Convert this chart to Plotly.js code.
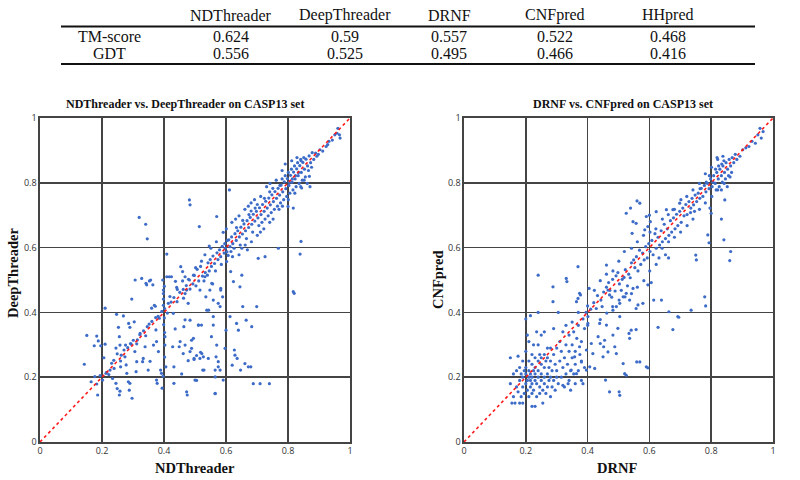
<!DOCTYPE html>
<html>
<head>
<meta charset="utf-8">
<script src="https://cdn.plot.ly/plotly-3.0.1.min.js"></script>
<style>html,body{margin:0;padding:0;background:#fff;}#chart{width:800px;height:480px;}</style>
</head>
<body>
<div id="chart"></div>
<script>
// ---- Table data ----
const tableCols = ["NDThreader", "DeepThreader", "DRNF", "CNFpred", "HHpred"];
const rowLabels = ["TM-score", "GDT"];
const tmScores = ["0.624", "0.59", "0.557", "0.522", "0.468"];
const gdtScores = ["0.556", "0.525", "0.495", "0.466", "0.416"];

// ---- Scatter tick labels ----
const tickVals = [0, 0.2, 0.4, 0.6, 0.8, 1];
const tickText = ["0", "0.2", "0.4", "0.6", "0.8", "1"];
const diagLine = [0, 1];

// ---- Left: NDThreader (x) vs DeepThreader (y) ----
const ndVsDeep = [
[0.143,0.240],[0.151,0.329],[0.183,0.327],[0.175,0.297],[0.188,0.312],[0.196,0.297],[0.210,0.302],[0.210,0.413],[0.165,0.186],[0.177,0.202],
[0.183,0.179],[0.186,0.145],[0.194,0.205],[0.202,0.191],[0.206,0.260],[0.213,0.212],[0.226,0.222],[0.234,0.196],[0.239,0.227],[0.245,0.290],
[0.249,0.272],[0.247,0.394],[0.253,0.354],[0.256,0.325],[0.258,0.299],[0.260,0.250],[0.260,0.232],[0.245,0.181],[0.249,0.165],[0.258,0.157],
[0.256,0.145],[0.269,0.389],[0.274,0.263],[0.276,0.299],[0.278,0.238],[0.280,0.212],[0.285,0.186],[0.288,0.160],[0.290,0.181],[0.286,0.366],
[0.290,0.354],[0.292,0.304],[0.296,0.441],[0.297,0.135],[0.304,0.371],[0.307,0.500],[0.306,0.279],[0.310,0.217],[0.312,0.248],[0.314,0.315],
[0.323,0.335],[0.328,0.505],[0.331,0.248],[0.333,0.258],[0.339,0.294],[0.342,0.490],[0.344,0.485],[0.346,0.356],[0.349,0.222],[0.353,0.497],
[0.357,0.500],[0.355,0.249],[0.360,0.413],[0.364,0.485],[0.366,0.299],[0.369,0.422],[0.372,0.419],[0.374,0.346],[0.376,0.310],[0.376,0.191],
[0.378,0.181],[0.382,0.279],[0.385,0.382],[0.389,0.222],[0.392,0.212],[0.394,0.166],[0.396,0.500],[0.398,0.441],[0.398,0.469],[0.398,0.422],
[0.403,0.325],[0.403,0.299],[0.406,0.232],[0.409,0.510],[0.417,0.510],[0.424,0.510],[0.419,0.449],[0.428,0.294],[0.430,0.397],[0.432,0.232],
[0.432,0.181],[0.436,0.349],[0.437,0.496],[0.441,0.477],[0.443,0.471],[0.449,0.294],[0.452,0.310],[0.457,0.210],[0.460,0.497],[0.462,0.471],
[0.462,0.273],[0.464,0.356],[0.468,0.377],[0.468,0.299],[0.473,0.155],[0.475,0.145],[0.478,0.251],[0.482,0.500],[0.484,0.279],[0.489,0.289],
[0.495,0.515],[0.497,0.258],[0.500,0.191],[0.505,0.267],[0.511,0.361],[0.516,0.258],[0.518,0.277],[0.521,0.361],[0.525,0.222],[0.532,0.510],
[0.538,0.407],[0.543,0.258],[0.553,0.325],[0.557,0.488],[0.559,0.438],[0.565,0.222],[0.565,0.150],[0.575,0.248],[0.581,0.418],[0.583,0.474],
[0.215,0.215],[0.222,0.208],[0.231,0.243],[0.238,0.252],[0.262,0.268],[0.271,0.284],[0.283,0.291],[0.294,0.302],[0.301,0.314],[0.312,0.303],
[0.322,0.331],[0.334,0.343],[0.341,0.328],[0.352,0.364],[0.361,0.372],[0.373,0.384],[0.381,0.388],[0.393,0.403],[0.402,0.412],[0.411,0.398],
[0.423,0.432],[0.432,0.446],[0.401,0.383],[0.399,0.362],[0.402,0.338],[0.398,0.458],[0.401,0.481],[0.397,0.203],[0.402,0.262],[0.414,0.428],
[0.454,0.541],[0.46,0.526],[0.468,0.51],[0.473,0.469],[0.478,0.428],[0.484,0.376],[0.489,0.314],[0.495,0.32],[0.497,0.255],[0.505,0.19],
[0.511,0.361],[0.516,0.469],[0.522,0.273],[0.527,0.263],[0.529,0.222],[0.535,0.448],[0.54,0.515],[0.544,0.407],[0.548,0.469],[0.554,0.49],
[0.559,0.387],[0.559,0.361],[0.565,0.201],[0.565,0.149],[0.568,0.263],[0.57,0.299],[0.575,0.428],[0.575,0.232],[0.581,0.222],[0.583,0.469],
[0.589,0.448],[0.591,0.191],[0.597,0.289],[0.6,0.345],[0.602,0.557],[0.613,0.387],[0.615,0.526],[0.62,0.237],[0.624,0.495],[0.627,0.284],
[0.629,0.268],[0.634,0.366],[0.636,0.258],[0.64,0.345],[0.645,0.479],[0.647,0.222],[0.651,0.515],[0.654,0.418],[0.661,0.242],[0.665,0.376],
[0.669,0.593],[0.672,0.232],[0.68,0.232],[0.683,0.356],[0.688,0.18],[0.699,0.418],[0.704,0.567],[0.71,0.18],[0.726,0.572],[0.74,0.18],
[0.769,0.598],[0.817,0.464],[0.82,0.459],[0.842,0.619],[0.839,0.58],[0.817,0.722],[0.80,0.727],[0.844,0.784],[0.869,0.82],
[0.32,0.693],[0.341,0.672],[0.346,0.627],[0.409,0.58],[0.482,0.747],[0.484,0.732],[0.514,0.665],[0.611,0.778],[0.57,0.696],[0.546,0.605],
[0.442,0.433],[0.451,0.462],[0.463,0.444],[0.472,0.483],[0.468,0.458],[0.484,0.472],[0.479,0.502],[0.493,0.488],[0.503,0.482],[0.498,0.514],
[0.512,0.497],[0.507,0.533],[0.524,0.512],[0.518,0.542],[0.533,0.523],[0.529,0.497],[0.542,0.553],[0.546,0.528],[0.553,0.542],[0.549,0.563],
[0.563,0.551],[0.558,0.574],[0.566,0.528],[0.574,0.563],[0.571,0.584],[0.583,0.572],[0.579,0.593],[0.585,0.548],[0.594,0.583],[0.588,0.604],
[0.596,0.612],[0.603,0.587],[0.598,0.598],[0.604,0.622],[0.607,0.576],[0.613,0.603],[0.609,0.624],[0.616,0.588],[0.622,0.612],[0.618,0.633],
[0.626,0.598],[0.633,0.622],[0.629,0.643],[0.634,0.662],[0.643,0.633],[0.638,0.652],[0.646,0.608],[0.653,0.642],[0.648,0.663],[0.654,0.684],
[0.663,0.652],[0.658,0.673],[0.666,0.628],[0.673,0.662],[0.668,0.683],[0.674,0.702],[0.683,0.672],[0.678,0.693],[0.686,0.648],[0.681,0.713],
[0.693,0.682],[0.688,0.703],[0.694,0.722],[0.703,0.692],[0.698,0.712],[0.706,0.668],[0.701,0.733],[0.713,0.702],[0.708,0.723],[0.716,0.678],
[0.723,0.712],[0.718,0.733],[0.724,0.752],[0.726,0.688],[0.733,0.722],[0.728,0.743],[0.736,0.698],[0.743,0.732],[0.738,0.753],[0.746,0.708],
[0.741,0.772],[0.753,0.742],[0.748,0.763],[0.756,0.718],[0.751,0.783],[0.763,0.752],[0.758,0.773],[0.766,0.728],[0.773,0.762],[0.768,0.783],
[0.774,0.792],[0.776,0.738],[0.783,0.772],[0.778,0.793],[0.786,0.748],[0.781,0.812],[0.793,0.782],[0.788,0.803],[0.796,0.758],[0.791,0.822],
[0.803,0.792],[0.798,0.813],[0.806,0.768],[0.801,0.832],[0.804,0.802],[0.813,0.802],[0.808,0.823],[0.816,0.778],[0.811,0.842],[0.814,0.812],
[0.823,0.812],[0.818,0.833],[0.826,0.788],[0.821,0.852],[0.824,0.822],[0.833,0.822],[0.828,0.843],[0.836,0.798],[0.831,0.862],[0.834,0.832],
[0.843,0.832],[0.838,0.853],[0.846,0.808],[0.841,0.872],[0.853,0.842],[0.848,0.863],[0.856,0.818],[0.851,0.878],[0.863,0.852],[0.858,0.873],
[0.866,0.838],[0.873,0.862],[0.868,0.883],[0.876,0.848],[0.883,0.872],[0.878,0.893],[0.893,0.882],[0.889,0.892],[0.903,0.902],[0.912,0.898],
[0.923,0.912],[0.932,0.928],[0.943,0.932],[0.951,0.948],[0.958,0.953],[0.968,0.938],[0.966,0.948],[0.961,0.968],[0.928,0.918],[0.898,0.888],
[0.502,0.538],[0.521,0.558],[0.532,0.578],[0.551,0.598],[0.569,0.618],[0.591,0.647],[0.601,0.658],[0.619,0.678],[0.631,0.688],[0.642,0.698],
[0.661,0.718],[0.672,0.728],[0.681,0.738],[0.692,0.748],[0.712,0.758],[0.731,0.788],[0.742,0.798],[0.762,0.808],[0.781,0.838],[0.791,0.858],
[0.812,0.868],[0.829,0.878],[0.842,0.868],[0.621,0.572],[0.642,0.578],[0.651,0.598],[0.662,0.608],[0.682,0.618],[0.701,0.638],[0.711,0.648],
[0.722,0.658],[0.741,0.678],[0.752,0.688],[0.771,0.718],[0.782,0.728],[0.801,0.748],[0.822,0.768],[0.841,0.788],[0.862,0.798],[0.871,0.788],[0.852,0.808]
];

// ---- Right: DRNF (x) vs CNFpred (y) ----
const drnfVsCnf = [
[0.15,0.26],[0.15,0.18],[0.155,0.12],[0.16,0.14],[0.16,0.21],[0.165,0.12],[0.17,0.17],[0.17,0.22],[0.175,0.265],[0.175,0.155],
[0.18,0.12],[0.18,0.19],[0.18,0.23],[0.185,0.14],[0.185,0.21],[0.19,0.12],[0.19,0.17],[0.19,0.20],[0.19,0.25],[0.195,0.15],
[0.195,0.22],[0.20,0.18],[0.20,0.21],[0.20,0.23],[0.20,0.28],[0.20,0.38],[0.205,0.16],[0.205,0.19],[0.205,0.33],[0.21,0.14],
[0.21,0.20],[0.21,0.22],[0.21,0.25],[0.21,0.31],[0.215,0.17],[0.215,0.19],[0.215,0.21],[0.215,0.39],[0.22,0.11],[0.22,0.15],
[0.22,0.18],[0.22,0.20],[0.22,0.24],[0.22,0.27],[0.225,0.16],[0.225,0.22],[0.225,0.30],[0.23,0.11],[0.23,0.19],[0.23,0.21],
[0.23,0.23],[0.23,0.26],[0.235,0.14],[0.235,0.18],[0.235,0.34],[0.24,0.20],[0.24,0.22],[0.24,0.25],[0.24,0.30],[0.24,0.40],
[0.245,0.15],[0.245,0.17],[0.245,0.27],[0.25,0.19],[0.25,0.21],[0.25,0.24],[0.25,0.26],[0.25,0.33],[0.255,0.12],[0.255,0.16],
[0.26,0.18],[0.26,0.20],[0.26,0.23],[0.26,0.27],[0.26,0.34],[0.265,0.15],[0.265,0.25],[0.27,0.17],[0.27,0.21],[0.27,0.26],
[0.27,0.29],[0.275,0.19],[0.275,0.23],[0.28,0.14],[0.28,0.20],[0.28,0.25],[0.28,0.29],[0.285,0.17],[0.285,0.22],[0.29,0.19],
[0.29,0.27],[0.29,0.35],[0.295,0.16],[0.295,0.24],[0.30,0.20],[0.30,0.22],[0.30,0.29],[0.305,0.18],[0.305,0.40],[0.31,0.25],
[0.31,0.31],[0.315,0.20],[0.315,0.28],[0.32,0.23],[0.32,0.34],[0.325,0.17],[0.325,0.26],[0.33,0.21],[0.33,0.30],[0.33,0.36],
[0.335,0.24],[0.34,0.19],[0.34,0.28],[0.34,0.33],[0.345,0.16],[0.345,0.22],[0.35,0.26],[0.35,0.30],[0.35,0.37],[0.355,0.21],
[0.355,0.34],[0.36,0.18],[0.36,0.24],[0.36,0.28],[0.365,0.32],[0.37,0.22],[0.37,0.36],[0.37,0.40],[0.375,0.27],[0.38,0.19],
[0.38,0.25],[0.38,0.31],[0.385,0.38],[0.39,0.23],[0.39,0.35],[0.395,0.40],[0.40,0.36],[0.40,0.42],[0.41,0.41],[0.42,0.43],
[0.432,0.452],[0.428,0.412],[0.443,0.438],[0.452,0.463],[0.447,0.418],[0.461,0.478],[0.472,0.468],[0.468,0.492],[0.481,0.502],[0.478,0.447],
[0.492,0.513],[0.489,0.466],[0.503,0.488],[0.498,0.523],[0.512,0.502],[0.509,0.468],[0.522,0.532],[0.518,0.508],[0.533,0.518],[0.529,0.482],
[0.542,0.553],[0.538,0.507],[0.553,0.538],[0.549,0.562],[0.563,0.528],[0.558,0.572],[0.572,0.548],[0.568,0.592],[0.583,0.562],[0.578,0.583],
[0.593,0.568],[0.588,0.603],[0.602,0.588],[0.598,0.612],[0.612,0.578],[0.608,0.622],[0.622,0.598],[0.618,0.643],[0.633,0.608],[0.628,0.632],
[0.642,0.618],[0.638,0.652],[0.652,0.628],[0.648,0.672],[0.663,0.638],[0.658,0.658],[0.672,0.648],[0.668,0.683],[0.683,0.658],[0.678,0.692],
[0.692,0.668],[0.688,0.703],[0.703,0.678],[0.698,0.712],[0.712,0.698],[0.708,0.722],[0.722,0.702],[0.718,0.733],[0.733,0.708],[0.728,0.742],
[0.734,0.722],[0.743,0.732],[0.738,0.752],[0.746,0.712],[0.753,0.742],[0.748,0.762],[0.763,0.752],[0.758,0.768],[0.764,0.782],[0.773,0.758],
[0.768,0.783],[0.783,0.772],[0.778,0.792],[0.784,0.802],[0.793,0.782],[0.788,0.798],[0.794,0.822],[0.803,0.788],[0.798,0.812],[0.806,0.802],
[0.813,0.798],[0.808,0.822],[0.814,0.842],[0.816,0.778],[0.823,0.812],[0.818,0.832],[0.824,0.852],[0.826,0.788],[0.821,0.872],[0.833,0.822],
[0.828,0.842],[0.834,0.858],[0.836,0.802],[0.843,0.832],[0.838,0.852],[0.846,0.812],[0.841,0.868],[0.853,0.842],[0.848,0.862],[0.856,0.822],
[0.863,0.852],[0.858,0.872],[0.866,0.832],[0.873,0.862],[0.868,0.878],[0.883,0.872],[0.878,0.888],[0.893,0.882],[0.902,0.902],[0.912,0.908],
[0.922,0.912],[0.932,0.928],[0.943,0.922],[0.951,0.948],[0.962,0.938],[0.968,0.958],[0.958,0.968],
[0.24,0.515],[0.288,0.479],[0.288,0.433],[0.331,0.505],[0.333,0.495],[0.369,0.541],[0.374,0.459],[0.377,0.454],[0.405,0.474],[0.369,0.443],
[0.364,0.433],[0.401,0.387],[0.401,0.366],
[0.525,0.706],[0.539,0.722],[0.56,0.744],[0.569,0.737],[0.547,0.68],[0.557,0.675],[0.544,0.644],[0.59,0.696],[0.585,0.655],[0.461,0.546],
[0.466,0.469],[0.471,0.454],[0.482,0.407],[0.493,0.418],[0.504,0.428],[0.515,0.448],[0.525,0.459],[0.536,0.438],[0.547,0.474],[0.557,0.412],
[0.563,0.423],[0.579,0.428],[0.595,0.485],[0.606,0.492],[0.614,0.438],[0.639,0.438],[0.628,0.354],[0.676,0.347],[0.692,0.387],[0.695,0.385],
[0.663,0.402],[0.735,0.407],[0.779,0.448],[0.782,0.42],[0.595,0.665],[0.603,0.68],[0.6,0.70],[0.622,0.711],[0.655,0.717],[0.676,0.717],[0.698,0.737],
[0.833,0.688],[0.841,0.624],[0.863,0.588],[0.86,0.56],[0.789,0.639],[0.793,0.615],[0.75,0.577],[0.752,0.562],[0.80,0.706],[0.796,0.722],
[0.844,0.747],[0.833,0.778],
[0.396,0.284],[0.417,0.273],[0.423,0.227],[0.439,0.366],[0.441,0.304],[0.45,0.263],[0.452,0.294],[0.458,0.191],[0.466,0.278],[0.471,0.155],
[0.482,0.33],[0.488,0.294],[0.493,0.273],[0.498,0.351],[0.502,0.155],[0.504,0.144],[0.515,0.242],[0.52,0.211],[0.525,0.206],[0.534,0.335],
[0.536,0.32],[0.557,0.347],[0.559,0.247],[0.569,0.247],[0.59,0.232],[0.595,0.229],[0.541,0.345],[0.504,0.387],[0.461,0.361],[0.455,0.314],
[0.434,0.325],[0.412,0.304],[0.407,0.232],[0.396,0.222],[0.38,0.247],[0.374,0.294],[0.358,0.263],[0.347,0.222],[0.337,0.18],[0.32,0.175],
[0.364,0.211],[0.385,0.18],
[0.621,0.658],[0.642,0.688],[0.661,0.702],[0.681,0.718],[0.702,0.748],[0.721,0.758],[0.741,0.778],[0.762,0.798],[0.781,0.828],[0.801,0.848],
[0.819,0.878],[0.838,0.882],[0.641,0.598],[0.662,0.618],[0.681,0.632],[0.701,0.648],[0.722,0.668],[0.741,0.688],[0.762,0.718],[0.781,0.738],
[0.802,0.758],[0.821,0.778],[0.842,0.798],[0.861,0.818],[0.852,0.788],
[0.422,0.468],[0.441,0.498],[0.461,0.518],[0.482,0.528],[0.501,0.558],[0.519,0.588],[0.542,0.598],[0.561,0.618],[0.581,0.638],[0.602,0.648],
[0.441,0.378],[0.462,0.398],[0.481,0.418],[0.502,0.438],[0.521,0.448],[0.542,0.458],[0.561,0.478],[0.582,0.498],[0.601,0.528],[0.622,0.548],
[0.631,0.568],[0.652,0.578],[0.662,0.568]
];

const W = 800, H = 480;
const px = x => x / W;
const py = y => 1 - y / H;

const dotColor = "#3d6cc8";
const gridCol = "#444444";

function scatter(pairs, xa, ya) {
  return {
    type: "scatter", mode: "markers",
    x: pairs.map(p => p[0]), y: pairs.map(p => p[1]),
    xaxis: xa, yaxis: ya,
    marker: {color: dotColor, size: 3.2, line: {width: 0}},
    hoverinfo: "skip"
  };
}
function diag(xa, ya) {
  return {
    type: "scatter", mode: "lines", x: diagLine, y: diagLine,
    xaxis: xa, yaxis: ya,
    line: {color: "#ff1a1a", width: 1.6, dash: "dot"}, hoverinfo: "skip"
  };
}

const axisBase = {
  range: [0, 1], tickvals: tickVals, ticktext: tickText,
  showgrid: true, gridcolor: gridCol, gridwidth: 1.6,
  showline: true, mirror: true, linecolor: gridCol, linewidth: 1.6,
  zeroline: false, ticks: "", fixedrange: true,
  tickfont: {family: "Open Sans, sans-serif", size: 9, color: "#333"}
};

const yDom = [(H - 442) / H, (H - 118) / H];

const serif = "Liberation Serif, Times New Roman, serif";
const annotations = [];
const shapes = [];

// Table
const colX = [231, 345, 449, 555, 668];
const rowY = [36.5, 53.5];
const labelX = 109;
const tblFont = {family: serif, size: 16, color: "#111"};
tableCols.forEach((c, i) => annotations.push({
  xref: "paper", yref: "paper", x: px(colX[i]), y: py(15), text: c, showarrow: false,
  xanchor: "center", yanchor: "middle", font: tblFont
}));
[tmScores, gdtScores].forEach((row, r) => {
  annotations.push({
    xref: "paper", yref: "paper", x: px(labelX), y: py(rowY[r]), text: rowLabels[r], showarrow: false,
    xanchor: "center", yanchor: "middle", font: tblFont
  });
  row.forEach((v, i) => annotations.push({
    xref: "paper", yref: "paper", x: px(colX[i]), y: py(rowY[r]), text: v, showarrow: false,
    xanchor: "center", yanchor: "middle", font: tblFont
  }));
});
shapes.push({type: "line", xref: "paper", yref: "paper", x0: px(61), x1: px(755), y0: py(26.5), y1: py(26.5), line: {color: "#111", width: 2.2}});
shapes.push({type: "line", xref: "paper", yref: "paper", x0: px(61), x1: px(755), y0: py(64), y1: py(64), line: {color: "#111", width: 2.2}});

// Plot titles
annotations.push({xref: "paper", yref: "paper", x: px(185), y: py(104), text: "<b>NDThreader vs. DeepThreader on CASP13 set</b>",
  showarrow: false, xanchor: "center", yanchor: "middle", font: {family: serif, size: 12, color: "#111"}});
annotations.push({xref: "paper", yref: "paper", x: px(623), y: py(104), text: "<b>DRNF vs. CNFpred on CASP13 set</b>",
  showarrow: false, xanchor: "center", yanchor: "middle", font: {family: serif, size: 12, color: "#111"}});

// Axis titles
const axFont = {family: serif, size: 14.5, color: "#111"};
annotations.push({xref: "paper", yref: "paper", x: px(195), y: py(468), text: "<b>NDThreader</b>",
  showarrow: false, xanchor: "center", yanchor: "middle", font: axFont});
annotations.push({xref: "paper", yref: "paper", x: px(617), y: py(468), text: "<b>DRNF</b>",
  showarrow: false, xanchor: "center", yanchor: "middle", font: axFont});
annotations.push({xref: "paper", yref: "paper", x: px(13), y: py(273), text: "<b>DeepThreader</b>", textangle: -90,
  showarrow: false, xanchor: "center", yanchor: "middle", font: axFont});
annotations.push({xref: "paper", yref: "paper", x: px(438), y: py(280), text: "<b>CNFpred</b>", textangle: -90,
  showarrow: false, xanchor: "center", yanchor: "middle", font: axFont});

const layout = {
  width: W, height: H, margin: {l: 0, r: 0, t: 0, b: 0},
  paper_bgcolor: "#fff", plot_bgcolor: "#fff", showlegend: false,
  xaxis: Object.assign({}, axisBase, {domain: [40 / W, 350 / W], anchor: "y"}),
  yaxis: Object.assign({}, axisBase, {domain: yDom, anchor: "x"}),
  xaxis2: Object.assign({}, axisBase, {domain: [464 / W, 773 / W], anchor: "y2"}),
  yaxis2: Object.assign({}, axisBase, {domain: yDom, anchor: "x2"}),
  annotations: annotations, shapes: shapes
};

Plotly.newPlot("chart", [
  scatter(ndVsDeep, "x", "y"), diag("x", "y"),
  scatter(drnfVsCnf, "x2", "y2"), diag("x2", "y2")
], layout, {staticPlot: true, displayModeBar: false});
</script>
</body>
</html>
